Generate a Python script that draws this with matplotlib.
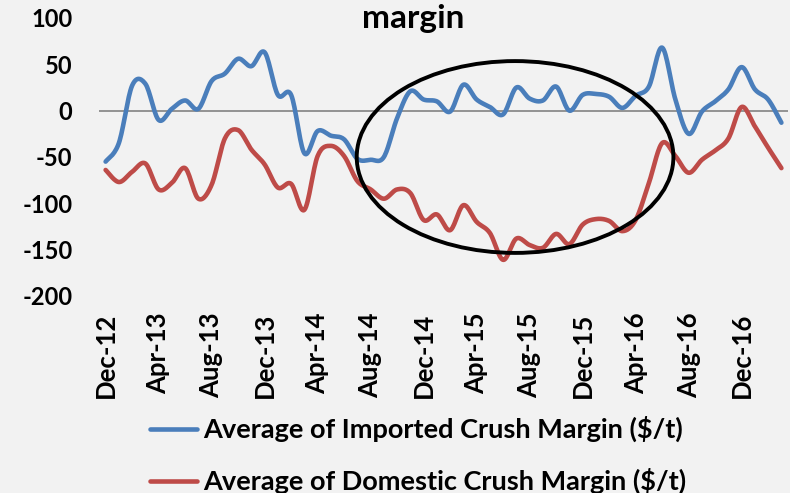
import numpy as np
import matplotlib.pyplot as plt
from matplotlib.patches import Ellipse

plt.rcParams['font.family'] = ['Lato', 'DejaVu Sans']
plt.rcParams['axes.unicode_minus'] = False

# monthly, Dec-12 .. Mar-17
tick_labels = ['Dec-12', 'Apr-13', 'Aug-13', 'Dec-13', 'Apr-14', 'Aug-14', 'Dec-14',
               'Apr-15', 'Aug-15', 'Dec-15', 'Apr-16', 'Aug-16', 'Dec-16']
imported = [-55, -35, 27, 29, -10, 2, 11, 2, 32, 40, 56, 48, 63, 17, 17, -46, -22, -27,
            -31, -52, -53, -50, -8, 21, 12, 10, -1, 28, 12, 4, -4, 25, 13, 11, 26, 0,
            17, 18, 15, 3, 16, 26, 68, 12, -25, -1, 10, 23, 47, 23, 12, -13]
domestic = [-64, -77, -66, -57, -85, -78, -62, -95, -80, -30, -21, -42, -58, -83, -79,
            -107, -49, -38, -49, -76, -85, -95, -85, -89, -118, -112, -129, -102, -120,
            -132, -161, -138, -145, -148, -133, -144, -123, -117, -119, -130, -118, -78,
            -35, -49, -67, -53, -43, -30, 4, -17, -40, -62]

blue = '#4A7EBB'
red = '#BE4B48'
bg = '#F2F2F2'


def smooth(y, n=16):
    # catmull-rom, close to excel's "smoothed line"
    y = np.asarray(y, dtype=float)
    x = np.arange(len(y), dtype=float)
    px = np.concatenate([[x[0]], x, [x[-1]]])
    py = np.concatenate([[y[0]], y, [y[-1]]])
    xs, ys = [], []
    t = np.linspace(0, 1, n, endpoint=False)
    for i in range(1, len(px) - 2):
        for p, out in ((px, xs), (py, ys)):
            p0, p1, p2, p3 = p[i - 1], p[i], p[i + 1], p[i + 2]
            out.append(0.5 * (2 * p1 + (-p0 + p2) * t
                              + (2 * p0 - 5 * p1 + 4 * p2 - p3) * t ** 2
                              + (-p0 + 3 * p1 - 3 * p2 + p3) * t ** 3))
    xs.append([x[-1]])
    ys.append([y[-1]])
    return np.concatenate(xs), np.concatenate(ys)


fig = plt.figure(figsize=(7.9, 4.93), dpi=100, facecolor=bg)
ax = fig.add_axes([0.1253, 0.3996, 0.8722, 0.5639], facecolor=bg)

ax.axhline(0, color='#8C8C8C', lw=1.3, zorder=1)
xi, yi = smooth(imported)
xd, yd = smooth(domestic)
ax.plot(xi, yi, color=blue, lw=3.3, solid_capstyle='round', label='Average of Imported Crush Margin ($/t)', zorder=3)
ax.plot(xd, yd, color=red, lw=3.3, solid_capstyle='round', label='Average of Domestic Crush Margin ($/t)', zorder=3)

ax.add_patch(Ellipse((30.9, -50), 23.9, 207, fill=False, edgecolor='black', lw=2.8, zorder=4, clip_on=False))

ax.set_xlim(-0.5, 51.5)
ax.set_ylim(-200, 100)
ax.set_yticks([100, 50, 0, -50, -100, -150, -200])
ax.set_xticks(np.arange(0, 52, 4))
ax.set_xticklabels(tick_labels, rotation=90, fontweight='bold', fontsize=18.5)
for lab in ax.get_yticklabels():
    lab.set_fontweight('bold')
ax.tick_params(axis='y', length=0, pad=19, labelsize=17)
ax.tick_params(axis='x', length=0, pad=12)
for s in ax.spines.values():
    s.set_visible(False)

fig.text(0.523, 0.944, 'margin', ha='center', va='baseline', fontsize=24, fontweight='bold')

fig.legend(loc='upper left', bbox_to_anchor=(0.176, 0.178), frameon=False,
           prop={'weight': 'bold', 'size': 19.5}, handlelength=1.75, handletextpad=0.2,
           labelspacing=0.95, borderaxespad=0)

fig.savefig('out.png', dpi=100, facecolor=bg)
